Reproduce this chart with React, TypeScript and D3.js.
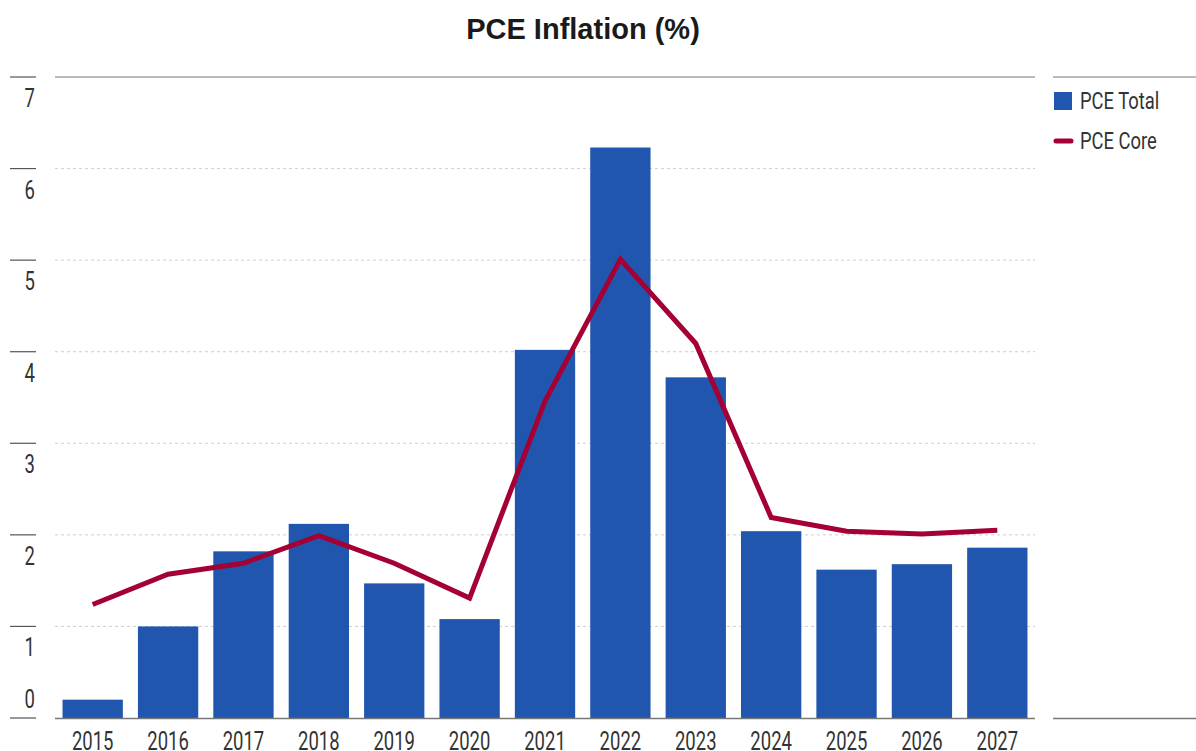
import React from "react";
import * as d3 from "d3";

const years = ["2015","2016","2017","2018","2019","2020","2021","2022","2023","2024","2025","2026","2027"];
const pceTotal = [0.2, 1.0, 1.82, 2.12, 1.47, 1.08, 4.02, 6.23, 3.72, 2.04, 1.62, 1.68, 1.86];
const pceCore = [1.24, 1.57, 1.69, 1.99, 1.69, 1.31, 3.46, 5.01, 4.09, 2.19, 2.04, 2.01, 2.05];
const yTicks = [0, 1, 2, 3, 4, 5, 6, 7];
const seriesNames = ["PCE Total", "PCE Core"];

const W = 1196, H = 751;
const left = 55, right = 1035, top = 77, bottom = 718;
const barColor = "#2056ae";
const lineColor = "#a50034";
const font = "Roboto, sans-serif";

function CText({ x, y, anchor = "start", size = 25, sx = 0.74, children }: { x: number; y: number; anchor?: string; size?: number; sx?: number; children: React.ReactNode }) {
  return (
    <text transform={`translate(${x},${y}) scale(${sx},1)`} textAnchor={anchor} fontFamily={font} fontSize={size} fill="#333">
      {children}
    </text>
  );
}

export default function App() {
  const x = d3.scaleBand<string>().domain(years).range([left, right]).paddingInner(0.2).paddingOuter(0.1);
  const y = d3.scaleLinear().domain([0, 7]).range([bottom, top]);
  const line = d3.line<number>()
    .x((_, i) => (x(years[i]) as number) + x.bandwidth() / 2)
    .y((d) => y(d));

  return (
    <svg width={W} height={H} style={{ position: "absolute", left: 0, top: 0, background: "#fff" }}>
      <text x={583} y={39} textAnchor="middle" fontFamily="'Liberation Sans', Arial, sans-serif" fontWeight="bold" fontSize={29} fill="#1a1a1a">PCE Inflation (%)</text>
      {yTicks.filter((t) => t > 0 && t < 7).map((t) => (
        <line key={"g" + t} x1={left} x2={right} y1={y(t)} y2={y(t)} stroke="#cfcfcf" strokeWidth={1} strokeDasharray="3,3" />
      ))}
      <line x1={left} x2={right} y1={y(7)} y2={y(7)} stroke="#777" strokeWidth={1.2} />
      <line x1={1053} x2={W} y1={y(7)} y2={y(7)} stroke="#777" strokeWidth={1.2} />
      {yTicks.map((t) => (
        <g key={"t" + t}>
          <line x1={10} x2={36} y1={y(t)} y2={y(t)} stroke="#555" strokeWidth={1.2} />
          <CText x={35} y={t === 0 ? y(t) - 10 : y(t) + 30} anchor="end">{t}</CText>
        </g>
      ))}
      {pceTotal.map((v, i) => (
        <rect key={"b" + i} x={x(years[i])} y={y(v)} width={x.bandwidth()} height={y(0) - y(v)} fill={barColor} />
      ))}
      <line x1={left} x2={right} y1={bottom + 0.5} y2={bottom + 0.5} stroke="#777" strokeWidth={1.5} />
      <line x1={1053} x2={W} y1={bottom + 0.5} y2={bottom + 0.5} stroke="#777" strokeWidth={1.5} />
      <path d={line(pceCore) || ""} fill="none" stroke={lineColor} strokeWidth={5} strokeLinejoin="miter" />
      {years.map((yr) => (
        <CText key={"x" + yr} x={(x(yr) as number) + x.bandwidth() / 2} y={750} anchor="middle">{yr}</CText>
      ))}
      <rect x={1054} y={92} width={18} height={18} fill={barColor} />
      <CText x={1080} y={109} size={23} sx={0.8}>{seriesNames[0]}</CText>
      <line x1={1056} x2={1071} y1={141} y2={141} stroke={lineColor} strokeWidth={5} strokeLinecap="round" />
      <CText x={1080} y={149} size={23} sx={0.8}>{seriesNames[1]}</CText>
    </svg>
  );
}
